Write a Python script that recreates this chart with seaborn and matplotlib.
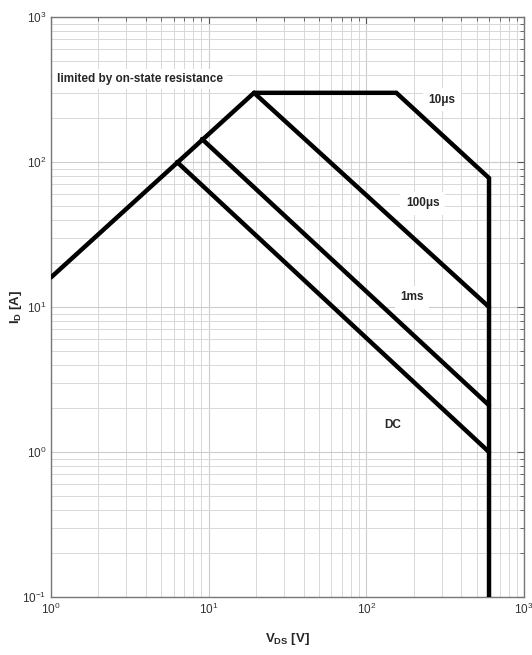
import matplotlib
matplotlib.use("Agg")
import matplotlib.pyplot as plt
import seaborn as sns
import pandas as pd
from matplotlib.ticker import LogLocator

# Safe operating area boundaries (V_DS in volts, I_D in amps)
rds_v = [1.0, 19.4]
rds_i = [16.0, 300.0]

us10_v = [19.4, 155.0, 600.0, 600.0]
us10_i = [300.0, 300.0, 77.5, 0.1]

us100_v = [19.4, 600.0]
us100_i = [300.0, 10.0]

ms1_v = [9.07, 600.0]
ms1_i = [144.0, 2.1]

dc_v = [6.3, 600.0]
dc_i = [100.0, 1.0]

curve_labels = ["10\u03bcs", "100\u03bcs", "1ms", "DC"]
label_v = [300.0, 228.0, 195.0, 147.0]
label_i = [268.0, 52.0, 11.7, 1.53]

sns.set_style("white")
plt.rcParams["font.family"] = ["Liberation Sans Narrow", "Liberation Sans", "DejaVu Sans"]
plt.rcParams["mathtext.default"] = "regular"

fig = plt.figure(figsize=(5.32, 6.55), dpi=100)
ax = fig.add_axes([51 / 532, 1 - 597 / 655, 473 / 532, 580 / 655])

curves = [(rds_v, rds_i), (us10_v, us10_i), (us100_v, us100_i),
          (ms1_v, ms1_i), (dc_v, dc_i)]
for vv, ii in curves:
    df = pd.DataFrame({"V": vv, "I": ii})
    sns.lineplot(data=df, x="V", y="I", ax=ax, color="black", lw=3.2,
                 sort=False, estimator=None, solid_joinstyle="miter", zorder=3)

ax.set_xscale("log")
ax.set_yscale("log")
ax.set_xlim(1, 1000)
ax.set_ylim(0.1, 1000)

ax.xaxis.set_major_locator(LogLocator(base=10))
ax.yaxis.set_major_locator(LogLocator(base=10))
ax.xaxis.set_minor_locator(LogLocator(base=10, subs=range(2, 10)))
ax.yaxis.set_minor_locator(LogLocator(base=10, subs=range(2, 10)))

ax.grid(True, which="major", color="#cccccc", lw=0.8, zorder=0)
ax.grid(True, which="minor", color="#d8d8d8", lw=0.7, zorder=0)

ax.tick_params(which="both", direction="in", top=True, right=True,
               colors="#555555", labelcolor="#333333", labelsize=8.5)
ax.tick_params(which="major", length=5, width=0.8)
ax.tick_params(which="minor", length=3, width=0.6)
for sp in ax.spines.values():
    sp.set_color("#777777")
    sp.set_linewidth(1.0)

box = dict(facecolor="white", edgecolor="none", pad=3)
ax.text(1.09, 373, "limited by on-state resistance", fontsize=8.5,
        fontweight="bold", ha="left", va="center", bbox=box, zorder=4)
for lab, v, i in zip(curve_labels, label_v, label_i):
    ax.text(v, i, lab, fontsize=8.5, fontweight="bold", ha="center",
            va="center", bbox=dict(facecolor="white", edgecolor="none", pad=4),
            zorder=2)

ax.set_xlabel("V$_{DS}$ [V]", fontsize=9.5, fontweight="bold", labelpad=10)
ax.set_ylabel("I$_{D}$ [A]", fontsize=9.5, fontweight="bold")
ax.yaxis.set_label_coords(-0.057, 0.5)

fig.savefig("out.png", dpi=100)
